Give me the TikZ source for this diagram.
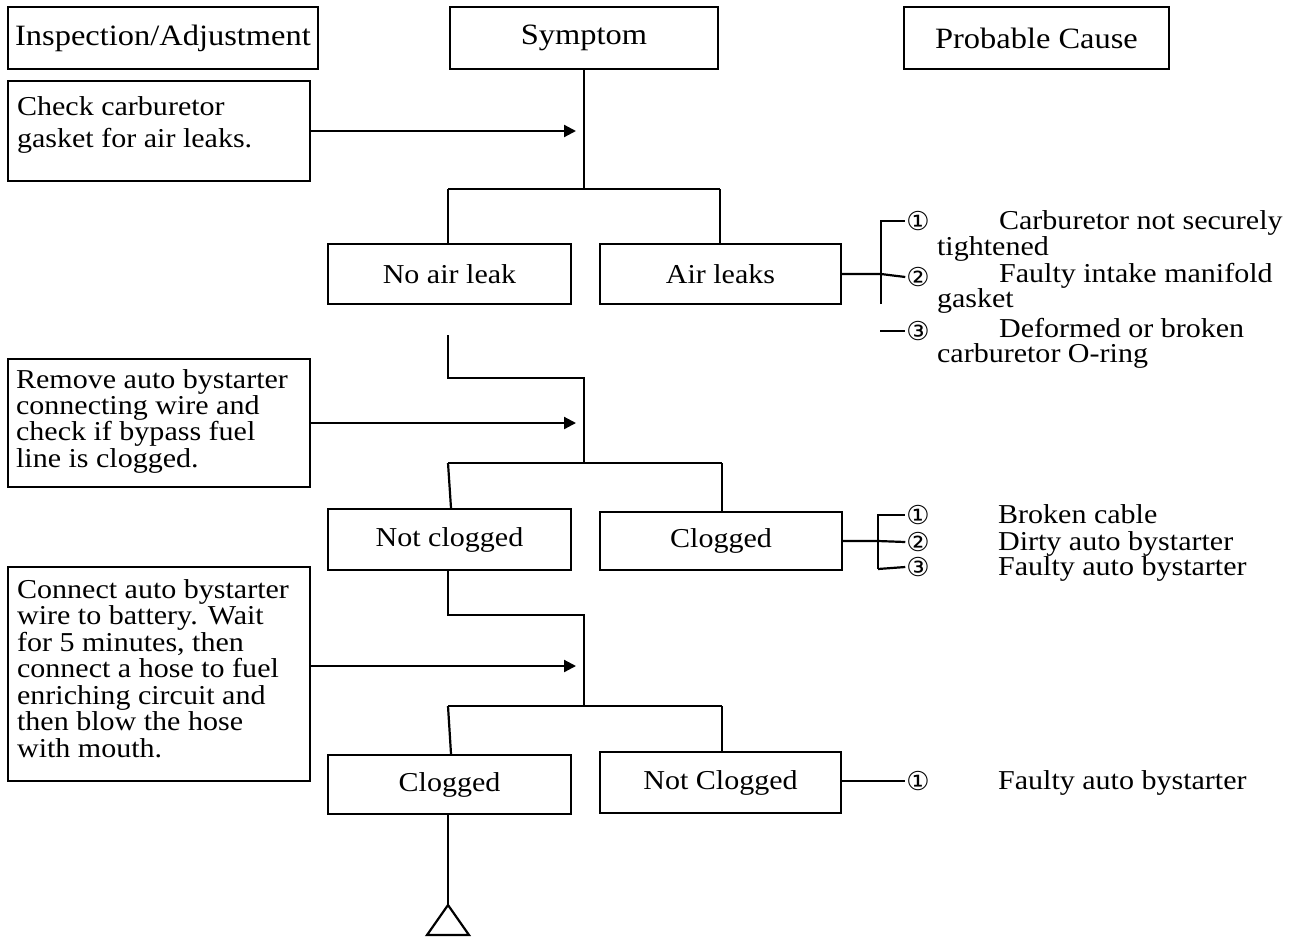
\documentclass[tikz,border=0pt]{standalone}
\usepackage{fontspec}
\setmainfont{Liberation Serif}[FakeStretch=1.1]
\newfontfamily\symf{DejaVu Sans}
\usetikzlibrary{arrows.meta}
\begin{document}
\begin{tikzpicture}[x=1pt,y=-1pt,line width=2.2pt,
  box/.style={draw,rectangle,inner sep=0pt,line width=2.2pt},
  lbl/.style={font=\fontsize{27.3}{30}\selectfont},
  hdr/.style={font=\fontsize{29.5}{32}\selectfont},
  txt/.style={anchor=base west,inner sep=0pt,font=\fontsize{27.3}{30}\selectfont},
  num/.style={inner sep=0pt,font=\symf\fontsize{26}{28}\selectfont},
  arr/.style={-{Triangle[length=12pt,width=12pt]}}]
\useasboundingbox (0,0) rectangle (1300,938);

% headers
\node[box,hdr,minimum width=310pt,minimum height=62pt] (hIA) at (163,38) {Inspection/Adjustment};
\node[box,hdr,minimum width=268pt,minimum height=62pt] (hSym) at (584,38) {Symptom};
\node[box,hdr,minimum width=265pt,minimum height=62pt] (hPC) at (1036.5,38) {Probable Cause};

% left boxes
\node[box,minimum width=302pt,minimum height=100pt] (bCheck) at (159,131) {};
\node[txt] (tc1) at (16,115) {Check carburetor};
\node[txt] (tc2) at (16,147) {gasket for air leaks.};

\node[box,minimum width=302pt,minimum height=128pt] (bRemove) at (159,423) {};
\node[txt] (tr1) at (15,388) {Remove auto bystarter};
\node[txt] (tr2) at (15,414.3) {connecting wire and};
\node[txt] (tr3) at (15,440.6) {check if bypass fuel};
\node[txt] (tr4) at (15,467) {line is clogged.};

\node[box,minimum width=302pt,minimum height=214pt] (bConnect) at (159,674) {};
\node[txt] (tn1) at (16,598) {Connect auto bystarter};
\node[txt] (tn2) at (16,624.5) {wire to battery. Wait};
\node[txt] (tn3) at (16,651) {for 5 minutes, then};
\node[txt] (tn4) at (16,677.5) {connect a hose to fuel};
\node[txt] (tn5) at (16,704) {enriching circuit and};
\node[txt] (tn6) at (16,730.5) {then blow the hose};
\node[txt] (tn7) at (16,757) {with mouth.};

% symptom boxes
\node[box,lbl,minimum width=243pt,minimum height=60pt] (sNoLeak) at (449.5,274) {No air leak};
\node[box,lbl,minimum width=241pt,minimum height=60pt] (sLeak) at (720.5,274) {Air leaks};
\node[box,lbl,minimum width=243pt,minimum height=61pt] (sNotClog) at (449.5,539.5) {Not clogged};
\node[box,lbl,minimum width=242pt,minimum height=58pt] (sClog) at (721,541) {Clogged};
\node[box,lbl,minimum width=243pt,minimum height=59pt] (sClog2) at (449.5,784.5) {Clogged};
\node[box,lbl,minimum width=241pt,minimum height=61pt] (sNotClog2) at (720.5,782.5) {Not Clogged};

% section 1 connectors
\coordinate (j1) at (584,189);
\coordinate (j1l) at (448,189);
\coordinate (j1r) at (720,189);
\draw (hSym.south) -- (j1);
\draw (j1l) -- (j1r);
\draw (j1l) -- (j1l |- sNoLeak.north);
\draw (j1r) -- (j1r |- sLeak.north);
\coordinate (a1) at (576,131);
\draw[arr] (bCheck.east) -- (a1);

% causes 1
\node[num] (d11) at (918,221) {①};
\node[num] (d12) at (918,277) {②};
\node[num] (d13) at (918,331) {③};
\coordinate (k1) at (881,274);
\coordinate (k1t) at (881,221);
\coordinate (k1b) at (881,304);
\coordinate (k1c) at (880,331);
\draw (sLeak.east) -- (k1) -- (d12.west);
\draw (k1b) -- (k1t) -- (d11.west);
\draw (k1c) -- (d13.west);
\node[txt] (c11a) at (998,229) {Carburetor not securely};
\node[txt] (c11b) at (936,255) {tightened};
\node[txt] (c12a) at (998,282) {Faulty intake manifold};
\node[txt] (c12b) at (936,307) {gasket};
\node[txt] (c13a) at (998,337) {Deformed or broken};
\node[txt] (c13b) at (936,362) {carburetor O-ring};

% section 2 connectors
\coordinate (s2) at (448,335);
\coordinate (s2a) at (448,378);
\coordinate (s2b) at (584,378);
\coordinate (j2) at (584,463);
\coordinate (j2l) at (448,463);
\coordinate (j2r) at (722,463);
\draw (s2) -- (s2a) -- (s2b) -- (j2);
\draw (j2l) -- (j2r);
\draw (j2l) -- ([xshift=1.5pt]sNotClog.north);
\draw (j2r) -- (j2r |- sClog.north);
\coordinate (a2) at (576,423);
\draw[arr] (bRemove.east) -- (a2);

% causes 2
\node[num] (d21) at (918,515) {①};
\node[num] (d22) at (918,542) {②};
\node[num] (d23) at (918,567) {③};
\coordinate (k2) at (878,541);
\coordinate (k2t) at (878,515);
\coordinate (k2b) at (878,569);
\draw (sClog.east) -- (k2) -- (d22.west);
\draw (k2b) -- (k2t) -- (d21.west);
\draw (k2b) -- (d23.west);
\node[txt] (c21) at (997,523) {Broken cable};
\node[txt] (c22) at (997,550) {Dirty auto bystarter};
\node[txt] (c23) at (997,575) {Faulty auto bystarter};

% section 3 connectors
\coordinate (s3a) at (448,615);
\coordinate (s3b) at (584,615);
\coordinate (j3) at (584,706);
\coordinate (j3l) at (448,706);
\coordinate (j3r) at (722,706);
\draw (s3a |- sNotClog.south) -- (s3a) -- (s3b) -- (j3);
\draw (j3l) -- (j3r);
\draw (j3l) -- ([xshift=1.5pt]sClog2.north);
\draw (j3r) -- (j3r |- sNotClog2.north);
\coordinate (a3) at (576,666);
\draw[arr] (bConnect.east |- a3) -- (a3);

% causes 3
\node[num] (d31) at (918,781) {①};
\draw (sNotClog2.east |- d31) -- (d31.west);
\node[txt] (c31) at (997,789) {Faulty auto bystarter};

% continuation triangle
\coordinate (tri) at (448,905);
\draw (tri |- sClog2.south) -- (tri);
\draw[fill=white] (tri) -- (427,935) -- (469,935) -- cycle;
\end{tikzpicture}
\end{document}
